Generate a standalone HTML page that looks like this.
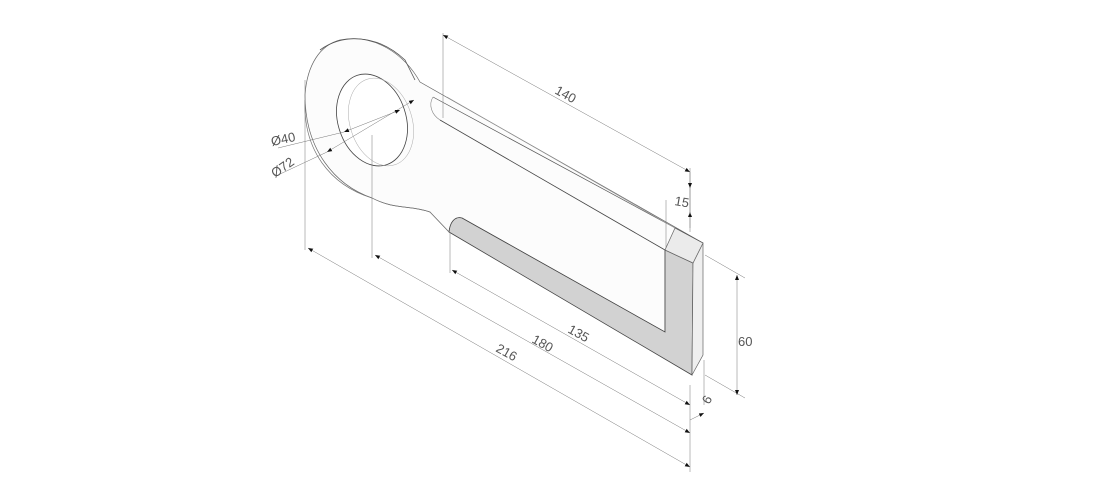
<!DOCTYPE html>
<html><head><meta charset="utf-8"><style>
html,body{margin:0;padding:0;background:#fff;}
svg{display:block}
text{font-family:"Liberation Sans",sans-serif;font-size:13px;fill:#555;}
</style></head><body>
<svg width="1117" height="487" viewBox="0 0 1117 487" xmlns="http://www.w3.org/2000/svg">
<defs>
<marker id="a" viewBox="0 0 10 10" refX="10" refY="5" markerWidth="10" markerHeight="10" orient="auto-start-reverse"><path d="M0,1 L10,5 L0,9 z" fill="#111"/></marker>
</defs>
<!-- plate body -->
<path d="M340,40 C375,33 405,55 420,82 L703,243 L693,263 L665,250 L665,332 L462,218 C455,216 450,222 449,232 L430,212 C410,205 395,210 372,198 C335,185 305,150 305,95 C307,65 320,45 340,40 Z" fill="#fcfcfc" stroke="#666" stroke-width="0.7"/>
<!-- gray slot face -->
<path d="M449,232 C450,222 455,216 462,218 L665,332 L665,250 L693,263 L692,375 Z" fill="#d2d2d2" stroke="#444" stroke-width="0.8"/>
<path d="M693,263 L703,243 L703,355 L692,375 Z" fill="#efefef" stroke="#666" stroke-width="0.7"/>
<path d="M675,228 L703,243 L693,263 L665,250 Z" fill="#ebebeb" stroke="#666" stroke-width="0.7"/>
<!-- top edges -->
<line x1="433" y1="97" x2="703" y2="243" stroke="#555" stroke-width="0.7"/>
<line x1="447" y1="97" x2="675" y2="228" stroke="#999" stroke-width="0.6"/>
<line x1="440" y1="120" x2="665" y2="250" stroke="#444" stroke-width="0.8"/>
<path d="M433,97 C428,105 432,115 440,120" fill="none" stroke="#888" stroke-width="0.6"/>
<path d="M305,100 C303,150 330,185 372,198 C395,210 410,205 430,212 L449,232" fill="none" stroke="#777" stroke-width="0.7"/>
<path d="M320,50 C340,35 375,32 405,60 L415,80" fill="none" stroke="#555" stroke-width="0.8"/>
<!-- hole -->
<ellipse cx="372" cy="120" rx="34" ry="47" transform="rotate(-18 372 120)" fill="#fff" stroke="#444" stroke-width="0.8"/>
<ellipse cx="381" cy="122" rx="31" ry="45" transform="rotate(-18 381 122)" fill="none" stroke="#aaa" stroke-width="0.5"/>
<!-- extension lines -->
<g stroke="#777" stroke-width="0.5" fill="none">
<line x1="443" y1="33" x2="443" y2="118"/>
<line x1="690" y1="168" x2="690" y2="232"/>
<line x1="666" y1="200" x2="666" y2="248"/>
<line x1="305" y1="80" x2="305" y2="250"/>
<line x1="372" y1="135" x2="372" y2="258"/>
<line x1="450" y1="232" x2="450" y2="273"/>
<line x1="690" y1="385" x2="690" y2="472"/>
<line x1="704" y1="360" x2="704" y2="405"/>
<line x1="705" y1="255" x2="745" y2="278"/>
<line x1="705" y1="375" x2="745" y2="398"/>
</g>
<!-- dimension lines -->
<g stroke="#777" stroke-width="0.5" fill="none">
<line x1="443" y1="35" x2="690" y2="172" marker-start="url(#a)" marker-end="url(#a)"/>
<line x1="690" y1="172" x2="690" y2="188" marker-end="url(#a)"/>
<line x1="690" y1="228" x2="690" y2="212" marker-end="url(#a)"/>
<line x1="690" y1="188" x2="690" y2="215"/>
<line x1="737" y1="275" x2="737" y2="395" marker-start="url(#a)" marker-end="url(#a)"/>
<line x1="452" y1="270" x2="690" y2="405" marker-start="url(#a)" marker-end="url(#a)"/>
<line x1="375" y1="255" x2="690" y2="433" marker-start="url(#a)" marker-end="url(#a)"/>
<line x1="308" y1="248" x2="690" y2="467" marker-start="url(#a)" marker-end="url(#a)"/>
<line x1="690" y1="420" x2="704" y2="413" marker-end="url(#a)"/>
<line x1="414" y1="100" x2="327" y2="152" marker-start="url(#a)" marker-end="url(#a)"/>
<line x1="400" y1="110" x2="344" y2="132" marker-start="url(#a)" marker-end="url(#a)"/>
<line x1="344" y1="132" x2="278" y2="148"/>
<line x1="327" y1="152" x2="278" y2="175"/>
</g>
<text x="0" y="0" transform="translate(554,93) rotate(29)">140</text>
<text x="0" y="0" transform="translate(674,205) rotate(10)">15</text>
<text x="738" y="346">60</text>
<text x="0" y="0" transform="translate(709,405) rotate(-60)">6</text>
<text x="0" y="0" transform="translate(567,332) rotate(29)">135</text>
<text x="0" y="0" transform="translate(531,342) rotate(29)">180</text>
<text x="0" y="0" transform="translate(495,351) rotate(29)">216</text>
<text x="0" y="0" transform="translate(272,146) rotate(-12)">Ø40</text>
<text x="0" y="0" transform="translate(275,178) rotate(-35)">Ø72</text>
</svg>
</body></html>
